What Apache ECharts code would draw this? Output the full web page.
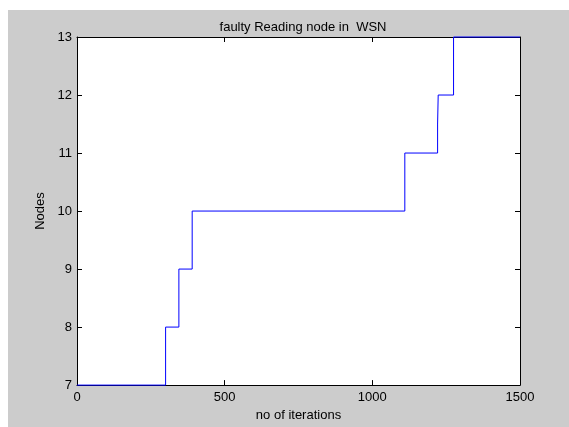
<!DOCTYPE html>
<html>
<head>
<meta charset="utf-8">
<script src="https://cdn.jsdelivr.net/npm/echarts@6/dist/echarts.min.js"></script>
<style>
  html, body { margin: 0; padding: 0; background: #ffffff; }
  #chart { position: absolute; left: 8px; top: 10px; width: 561px; height: 417px; }
</style>
</head>
<body>
<div id="chart"></div>
<script>
// change points of the step line
const iterations = [0, 300, 345, 390, 1110, 1221, 1223, 1275, 1500]
const nodes = [7, 8, 9, 10, 11, 11.5, 12, 13, 13]
const xTicks = [0, 500, 1000, 1500]
const yTicks = [7, 8, 9, 10, 11, 12, 13]

const chart = echarts.init(document.getElementById('chart'))
const font = 'Liberation Sans, Arial, sans-serif'

const boxAxis = {
  axisLine: { show: true, onZero: false, lineStyle: { color: '#000', width: 1 } },
  axisTick: { show: true, inside: true, length: 5, lineStyle: { color: '#000' } },
  splitLine: { show: false }
}

const option = {
  backgroundColor: '#cccccc',
  animation: false,
  title: {
    text: 'faulty Reading node in  WSN',
    left: 290, top: 6, textAlign: 'center',
    textStyle: { fontFamily: font, fontSize: 13, fontWeight: 'normal', color: '#000' }
  },
  grid: { left: 69, top: 27, right: 49, bottom: 40, backgroundColor: '#fff', show: true, borderWidth: 0 },
  xAxis: [
    Object.assign({
      type: 'value', min: xTicks[0], max: xTicks[xTicks.length - 1], interval: 500,
      position: 'bottom',
      name: 'no of iterations', nameLocation: 'middle', nameGap: 20,
      nameTextStyle: { fontFamily: font, fontSize: 13, color: '#000' },
      axisLabel: { fontFamily: font, fontSize: 13, color: '#000', margin: 6, formatter: v => String(v) }
    }, boxAxis),
    Object.assign({
      type: 'value', min: xTicks[0], max: xTicks[xTicks.length - 1], interval: 500,
      position: 'top', axisLabel: { show: false }
    }, boxAxis)
  ],
  yAxis: [
    Object.assign({
      type: 'value', min: yTicks[0], max: yTicks[yTicks.length - 1], interval: 1,
      position: 'left',
      name: 'Nodes', nameLocation: 'middle', nameGap: 26,
      nameTextStyle: { fontFamily: font, fontSize: 13, color: '#000' },
      axisLabel: { fontFamily: font, fontSize: 13, color: '#000', margin: 5 }
    }, boxAxis),
    Object.assign({
      type: 'value', min: yTicks[0], max: yTicks[yTicks.length - 1], interval: 1,
      position: 'right', axisLabel: { show: false }
    }, boxAxis)
  ],
  series: [{
    type: 'line',
    step: 'end',
    data: iterations.map((x, i) => [x, nodes[i]]),
    showSymbol: false,
    lineStyle: { color: '#0000ff', width: 1 },
    clip: false,
    z: 10
  }]
}

chart.setOption(option)
</script>
</body>
</html>
